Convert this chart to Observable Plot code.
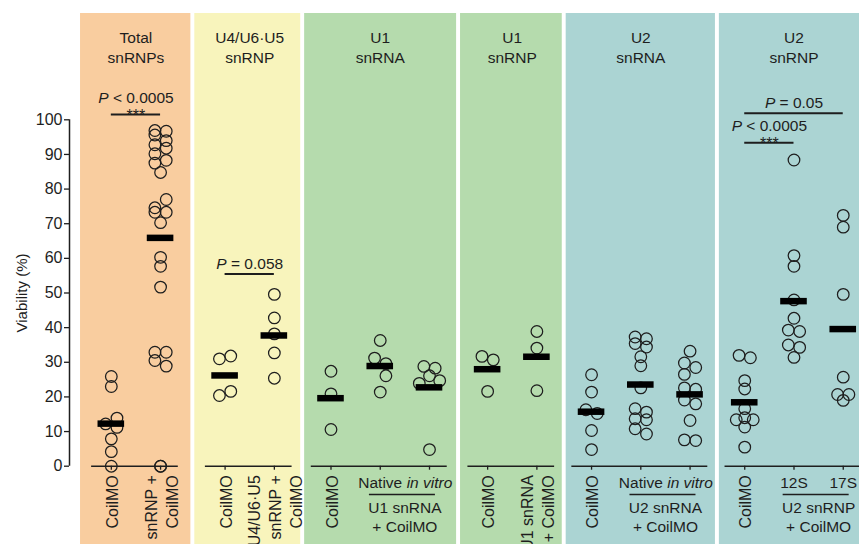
<!DOCTYPE html>
<html>
<head>
<meta charset="utf-8">
<script src="https://cdn.jsdelivr.net/npm/d3@7"></script>
<script src="https://cdn.jsdelivr.net/npm/@observablehq/plot@0.6"></script>
<style>
  html, body { margin: 0; padding: 0; background: #fff; overflow: hidden; }
  #chart svg { display: block; }
</style>
</head>
<body>
<div id="chart"></div>
<script>
// ================= DATA =================
const panelTitles = ["Total\nsnRNPs", "U4/U6·U5\nsnRNP", "U1\nsnRNA", "U1\nsnRNP", "U2\nsnRNA", "U2\nsnRNP"];

const groupIds   = ["tCo", "tSn", "u4Co", "u4Sn", "u1aCo", "u1aNat", "u1aVit", "u1bCo", "u1bSn", "u2aCo", "u2aNat", "u2aVit", "u2bCo", "u2b12", "u2b17"];
const groupPanel = [0, 0, 1, 1, 2, 2, 2, 3, 3, 4, 4, 4, 5, 5, 5];

const rotatedLabels = ["CoilMO", "snRNP +\nCoilMO", "CoilMO", "U4/U6·U5\nsnRNP +\nCoilMO", "CoilMO", "", "", "CoilMO", "U1 snRNA\n+ CoilMO", "CoilMO", "", "", "CoilMO", "", ""];
const columnLabels  = ["", "", "", "", "", "Native", "in vitro", "", "", "", "Native", "in vitro", "", "12S", "17S"];
const italicLabels  = ["in vitro"];

const subFrom = ["u1aNat", "u2aNat", "u2b12"];
const subTo   = ["u1aVit", "u2aVit", "u2b17"];
const subText = ["U1 snRNA\n+ CoilMO", "U2 snRNA\n+ CoilMO", "U2 snRNP\n+ CoilMO"];

const sigFrom  = ["tCo", "u4Co", "u2bCo", "u2bCo"];
const sigTo    = ["tSn", "u4Sn", "u2b12", "u2b17"];
const sigLevel = [101.5, 55.5, 93.4, 101.9];
const sigText  = ["P < 0.0005", "P = 0.058", "P < 0.0005", "P = 0.05"];
const sigStars = ["***", "", "***", ""];

const yTicks = [0, 10, 20, 30, 40, 50, 60, 70, 80, 90, 100];
const yDomain = [0, 100];
const yTitle = "Viability (%)";

// [viability %, jitter lane]
const totalCoilMO = [[25.9,0],[23.0,0],[13.9,1],[12.2,-1],[11.2,1],[7.9,0],[4.2,0],[0,0]];
const totalSnRNP  = [[96.9,-1],[95.6,-1],[92.8,-1],[90.2,-1],[87.5,-1],[96.7,1],[94.0,1],[91.8,1],[88.3,1],[84.8,0],
                     [77.0,1],[74.6,-1],[73.3,-1],[73.3,1],[70.3,0],[60.3,0],[57.7,0],[51.7,0],
                     [32.9,-1],[32.9,1],[30.5,-1],[28.9,1],[0,0],[0,0]];
const u4CoilMO    = [[31.0,-1],[31.8,1],[20.4,-1],[21.6,1]];
const u4SnRNP     = [[49.6,0],[42.8,0],[38.2,0],[32.7,0],[25.4,0]];
const u1aCoilMO   = [[27.4,0],[20.9,0],[10.6,0]];
const u1aNative   = [[36.3,0],[31.2,-1],[29.6,1],[26.1,1],[21.4,0]];
const u1aInVitro  = [[28.8,-1],[28.3,1],[26.1,0],[23.9,-1.8],[24.7,1.8],[4.8,0]];
const u1bCoilMO   = [[31.7,-1],[30.7,1],[21.6,0]];
const u1bSnRNA    = [[38.9,0],[34.1,0],[21.8,0]];
const u2aCoilMO   = [[26.4,0],[21.4,0],[16.3,-1],[15.2,1],[10.3,0],[4.8,0]];
const u2aNative   = [[37.3,-1],[36.8,1],[35.4,-1],[34.4,1],[31.6,0],[29.0,0],[22.6,0],[16.6,-1],[15.6,1],[13.7,-1],[13.4,1],[10.8,-1],[9.3,1]];
const u2aInVitro  = [[33.2,0],[29.8,-1],[28.5,1],[26.5,-1],[22.6,-1],[22.2,1],[19.1,-1],[18.0,1],[13.2,0],[7.6,-1],[7.4,1]];
const u2bCoilMO   = [[32.0,-1],[31.3,1],[24.7,0],[22.3,0],[16.6,0],[13.4,-1.5],[14.0,0],[13.4,1.5],[11.3,0],[5.5,0]];
const u2b12S      = [[88.4,0],[60.8,0],[57.7,0],[48.0,0],[42.7,0],[39.3,-1],[38.9,1],[35.0,-1],[34.3,1],[31.4,0]];
const u2b17S      = [[72.4,0],[69.0,0],[49.6,0],[25.7,0],[20.7,-1],[20.7,1],[19.0,0]];

const groupValues = [totalCoilMO, totalSnRNP, u4CoilMO, u4SnRNP, u1aCoilMO, u1aNative, u1aInVitro,
                     u1bCoilMO, u1bSnRNA, u2aCoilMO, u2aNative, u2aInVitro, u2bCoilMO, u2b12S, u2b17S];

// ================= LAYOUT / STYLE =================
const W = 859, H = 544;
const panelFill = ["#f9cd9f", "#f8f4bc", "#b5dbad", "#b5dbad", "#abd4d3", "#abd4d3"];
const panelGaps = [1.31, 1.15, 1.18, 1.11, 1.11];   // column units between panels
const xDomain = [-0.849, 15.19];
const yRange = [465.7, 119.3];
const laneUnit = 0.115;
const ink = "#1e1e1e";
const font = "'Liberation Sans', Arial, Helvetica, sans-serif";

const pos = {};
let cur = 0;
groupIds.forEach((g, i) => {
  if (i > 0) cur += groupPanel[i] !== groupPanel[i - 1] ? panelGaps[groupPanel[i] - 1] : 1;
  pos[g] = cur;
});

const points = groupIds.flatMap((g, i) => groupValues[i].map(([v, lane]) => ({g, v, x: pos[g] + lane * laneUnit})));
const means = groupIds.map((g, i) => ({g, x: pos[g], mean: d3.mean(groupValues[i], d => d[0])}));

const panels = panelTitles.map((title, p) => {
  const ids = groupIds.filter((g, i) => groupPanel[i] === p);
  return {p, title, first: pos[ids[0]], last: pos[ids[ids.length - 1]]};
});
panels.forEach((d, p) => {
  d.x1 = p === 0 ? d.first - 0.625 : (panels[p - 1].last + d.first) / 2 + 0.04;
  d.x2 = p === panels.length - 1 ? xDomain[1] : (d.last + panels[p + 1].first) / 2 - 0.04;
});

const rotData = groupIds.map((g, i) => ({x: pos[g], t: rotatedLabels[i]})).filter(d => d.t);
const colData = groupIds.map((g, i) => ({x: pos[g], t: columnLabels[i]})).filter(d => d.t);
const subs = subText.map((t, i) => ({a: pos[subFrom[i]], b: pos[subTo[i]], t}));
const sigs = sigText.map((t, i) => ({a: pos[sigFrom[i]], b: pos[sigTo[i]], level: sigLevel[i], t, stars: sigStars[i]}));

const svg = Plot.plot({
  width: W, height: H,
  marginTop: 13, marginBottom: 0, marginLeft: 69, marginRight: 0,
  style: {fontFamily: font, fontSize: "15px", color: ink, background: "white"},
  x: {domain: xDomain, axis: null},
  y: {domain: yDomain, range: yRange},
  marks: [
    ...panels.map(d => Plot.rect([d], {x1: "x1", x2: "x2", fill: panelFill[d.p]})),
    Plot.ruleX([xDomain[0]], {y1: yDomain[0], y2: yDomain[1], stroke: ink, strokeWidth: 1.5}),
    Plot.axisY({ticks: yTicks, tickSize: 5, tickPadding: 2, fontSize: 16, label: null, color: ink, strokeWidth: 1.3}),
    Plot.ruleY(panels, {y: 0, x1: d => d.first - 0.4, x2: d => d.last + 0.36, stroke: ink, strokeWidth: 1.5}),
    Plot.ruleX(means, {x: "x", y1: 0, y2: 0, insetBottom: -4, stroke: ink, strokeWidth: 1.3}),
    Plot.dot(points, {x: "x", y: "v", r: 5.8, fill: "none", stroke: ink, strokeWidth: 1.25}),
    Plot.ruleY(means, {y: "mean", x1: d => d.x - 0.27, x2: d => d.x + 0.27, stroke: "#000", strokeWidth: 6.5}),
    // panel titles
    Plot.text(panels, {x: d => (d.first + d.last) / 2, text: "title", frameAnchor: "top", dy: 33,
      lineAnchor: "middle", lineHeight: 1.3, fontSize: 15.5, fill: ink}),
    // rotated category labels
    Plot.text(rotData, {x: "x", y: 0, text: "t", rotate: -90, textAnchor: "end", lineAnchor: "middle",
      lineHeight: 1.3, dy: 9, fontSize: 16, fill: ink}),
    // horizontal column labels
    Plot.text(colData.filter(d => !italicLabels.includes(d.t)), {x: "x", y: 0, text: "t", dy: 16.6,
      lineAnchor: "middle", lineHeight: 1, fontSize: 15.5, fill: ink}),
    Plot.text(colData.filter(d => italicLabels.includes(d.t)), {x: "x", y: 0, text: "t", dy: 16.6,
      lineAnchor: "middle", lineHeight: 1, fontSize: 15.5, fontStyle: "italic", fill: ink}),
    // sub-group brackets
    Plot.ruleY(subs, {y: 0, x1: d => d.a - 0.22, x2: d => d.b + 0.12, dy: 28.3, stroke: ink, strokeWidth: 1.5}),
    Plot.text(subs, {x: d => (d.a + d.b) / 2, y: 0, text: "t", dy: 50.6, lineAnchor: "middle", lineHeight: 1.2, fontSize: 15.5, fill: ink}),
    // significance
    Plot.ruleY(sigs, {y: "level", x1: "a", x2: "b", stroke: ink, strokeWidth: 2}),
    Plot.text(sigs.filter(d => d.stars), {x: d => (d.a + d.b) / 2, y: "level", text: "t", dy: -17,
      lineAnchor: "middle", lineHeight: 1, fontSize: 15.5, fill: ink}),
    Plot.text(sigs.filter(d => !d.stars), {x: d => (d.a + d.b) / 2, y: "level", text: "t", dy: -10,
      lineAnchor: "middle", lineHeight: 1, fontSize: 15.5, fill: ink}),
    Plot.text(sigs.filter(d => d.stars), {x: d => (d.a + d.b) / 2, y: "level", text: "stars", dy: 6,
      lineAnchor: "bottom", lineHeight: 1, fontSize: 16, fill: ink}),
    // y title
    Plot.text([yTitle], {x: xDomain[0], y: (yDomain[0] + yDomain[1]) / 2, rotate: -90, dx: -47,
      textAnchor: "middle", lineAnchor: "middle", lineHeight: 1, fontSize: 15, fill: ink})
  ]
});

// italic "P" in p-value labels
svg.querySelectorAll("text").forEach(t => {
  if (t.children.length === 0 && /^P [<=] /.test(t.textContent)) {
    const rest = t.textContent.slice(1);
    t.textContent = "";
    const ts = document.createElementNS("http://www.w3.org/2000/svg", "tspan");
    ts.setAttribute("font-style", "italic");
    ts.textContent = "P";
    t.appendChild(ts);
    t.appendChild(document.createTextNode(rest));
  }
});

document.getElementById("chart").appendChild(svg);
</script>
</body>
</html>
